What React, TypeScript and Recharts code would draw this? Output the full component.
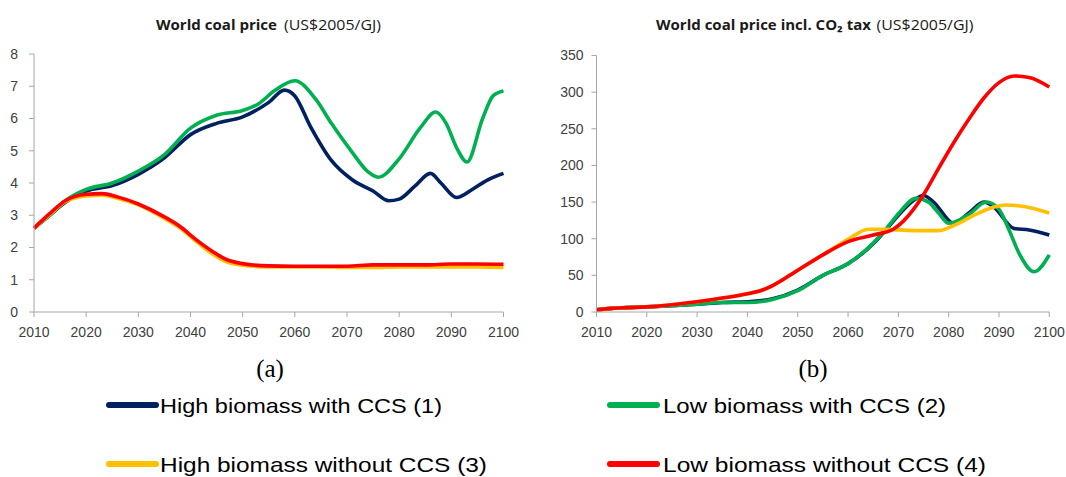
import React from 'react';
import { LineChart, Line, XAxis, YAxis } from 'recharts';

// ---------- shared ----------
const xTicks = [2010, 2020, 2030, 2040, 2050, 2060, 2070, 2080, 2090, 2100];
const leftYTicks = [0, 1, 2, 3, 4, 5, 6, 7, 8];
const rightYTicks = [0, 50, 100, 150, 200, 250, 300, 350];

const seriesNames = [
  'High biomass with CCS (1)',
  'Low biomass with CCS (2)',
  'High biomass without CCS (3)',
  'Low biomass without CCS (4)',
];
const seriesColors = ['#002060', '#00B050', '#FFC000', '#FF0000'];

// ---------- (a) World coal price ----------
const aYearsBlue = [2010, 2013, 2016, 2020, 2025, 2030, 2035, 2040, 2045, 2050, 2055, 2058, 2060, 2063, 2067, 2071, 2075, 2078, 2080, 2083, 2086, 2088, 2091, 2094, 2097, 2100];
const aBlue = [2.6, 3.0, 3.4, 3.75, 3.92, 4.27, 4.78, 5.5, 5.85, 6.05, 6.5, 6.88, 6.7, 5.75, 4.7, 4.1, 3.75, 3.45, 3.5, 3.9, 4.3, 4.0, 3.55, 3.8, 4.1, 4.3];

const aYearsGreen = [2010, 2013, 2016, 2020, 2025, 2030, 2035, 2040, 2045, 2050, 2053, 2056, 2060, 2064, 2067, 2071, 2074, 2076, 2080, 2084, 2087, 2089, 2091, 2093, 2096, 2098, 2100];
const aGreen = [2.6, 3.0, 3.45, 3.8, 4.0, 4.37, 4.88, 5.7, 6.1, 6.25, 6.45, 6.85, 7.17, 6.6, 5.85, 4.95, 4.35, 4.18, 4.75, 5.7, 6.2, 5.85, 5.1, 4.65, 6.0, 6.7, 6.85];

const aYearsLow = [2010, 2013, 2016, 2020, 2023, 2026, 2030, 2035, 2038, 2041, 2044, 2047, 2050, 2055, 2060, 2065, 2070, 2075, 2080, 2085, 2090, 2095, 2100];
const aYellow = [2.6, 3.02, 3.42, 3.6, 3.62, 3.53, 3.32, 2.9, 2.6, 2.2, 1.82, 1.55, 1.45, 1.4, 1.4, 1.4, 1.38, 1.38, 1.4, 1.4, 1.4, 1.4, 1.38];
const aRed = [2.6, 3.05, 3.45, 3.65, 3.67, 3.57, 3.35, 2.95, 2.65, 2.25, 1.9, 1.62, 1.5, 1.43, 1.42, 1.42, 1.42, 1.46, 1.46, 1.46, 1.49, 1.49, 1.48];

// ---------- (b) World coal price incl. CO2 tax ----------
const bYearsBlue = [2010, 2013, 2016, 2020, 2025, 2030, 2035, 2040, 2045, 2050, 2055, 2060, 2065, 2068, 2070, 2073, 2075, 2077, 2081, 2084, 2087, 2089, 2093, 2096, 2100];
const bBlue = [3, 5, 6, 7, 8.5, 10.5, 13, 14, 18, 30, 50, 66, 93, 116, 132, 152, 159, 150, 121, 135, 150, 143, 114, 112, 105];

const bYearsGreen = [2010, 2013, 2016, 2020, 2025, 2030, 2035, 2040, 2045, 2050, 2055, 2060, 2065, 2068, 2070, 2073.5, 2076, 2078, 2080, 2084, 2087.5, 2090, 2092, 2094, 2097, 2100];
const bGreen = [3, 5, 6, 7, 8.5, 10.5, 13, 13, 17, 29, 50, 66, 94, 117, 134, 155, 150, 135, 121, 133, 150, 140, 112, 80, 55, 78];

const bYearsYellow = [2010, 2013, 2016, 2020, 2025, 2030, 2035, 2040, 2043, 2045, 2050, 2055, 2060, 2064, 2067, 2070, 2074, 2078, 2081, 2085, 2088, 2091.5, 2095, 2100];
const bYellow = [3, 5, 6, 7, 10, 14, 19, 25, 30, 36, 57, 78, 99, 113, 113, 112, 111, 111, 118, 132, 141, 146, 144, 135];

const bYearsRed = [2010, 2013, 2016, 2020, 2025, 2030, 2035, 2040, 2043, 2045, 2050, 2055, 2060, 2065, 2069, 2071, 2073, 2075, 2078, 2081, 2084, 2087, 2090, 2093, 2096, 2100];
const bRed = [3, 5, 6, 7, 10, 14, 19, 25, 30, 36, 57, 78, 96, 105, 113, 124, 140, 160, 196, 231, 263, 292, 313, 322, 320, 307];

const toRows = (years: number[], vals: number[]) => years.map((y, i) => ({ year: y, v: vals[i] }));

const aSeries = [
  toRows(aYearsBlue, aBlue),
  toRows(aYearsGreen, aGreen),
  toRows(aYearsLow, aYellow),
  toRows(aYearsLow, aRed),
];
const bSeries = [
  toRows(bYearsBlue, bBlue),
  toRows(bYearsGreen, bGreen),
  toRows(bYearsYellow, bYellow),
  toRows(bYearsRed, bRed),
];

const axisColor = '#A6A6A6';
const tickStyle = { fill: '#404040', fontSize: 14, fontFamily: 'Liberation Sans, Arial, sans-serif' };

function Panel({ series, yDomain, yTicks, width, margin, yTickMargin }: any) {
  return (
    <LineChart width={width} height={345} margin={margin} style={{ overflow: 'visible' }}>
      <XAxis
        dataKey="year"
        type="number"
        domain={[2010, 2100]}
        ticks={xTicks}
        allowDuplicatedCategory={false}
        height={30}
        tickSize={5}
        tickMargin={10}
        tick={tickStyle}
        axisLine={{ stroke: axisColor }}
        tickLine={{ stroke: axisColor }}
        interval={0}
      />
      <YAxis
        type="number"
        domain={yDomain}
        ticks={yTicks}
        width={30}
        tickSize={5}
        tickMargin={yTickMargin}
        tick={tickStyle}
        axisLine={{ stroke: axisColor }}
        tickLine={{ stroke: axisColor }}
        interval={0}
      />
      {series.map((d: any[], i: number) => (
        <Line
          key={seriesNames[i]}
          name={seriesNames[i]}
          data={d}
          dataKey="v"
          type="monotone"
          stroke={seriesColors[i]}
          strokeWidth={3.6}
          dot={false}
          activeDot={false}
          isAnimationActive={false}
        />
      ))}
    </LineChart>
  );
}

const titleFont = 'Open Sans, Liberation Sans, sans-serif';
const legendFont = 'Liberation Sans, Arial, sans-serif';

const legendItems = [
  { sx: 109, tx: 160, tw: 282, y: 405 },
  { sx: 610, tx: 663, tw: 283, y: 405 },
  { sx: 109, tx: 160, tw: 327, y: 464 },
  { sx: 610, tx: 663, tw: 323, y: 464 },
];

export default function App() {
  return (
    <div style={{ position: 'absolute', left: 0, top: 0, width: 1066, height: 477, background: '#fff', overflow: 'hidden' }}>
      <div style={{ position: 'absolute', left: 0, top: 0 }}>
        <Panel
          series={aSeries}
          yDomain={[0, 8]}
          yTicks={leftYTicks}
          width={530}
          margin={{ top: 54, right: 26.5, left: 4, bottom: 3 }}
          yTickMargin={11}
        />
      </div>
      <div style={{ position: 'absolute', left: 533, top: 0 }}>
        <Panel
          series={bSeries}
          yDomain={[0, 350]}
          yTicks={rightYTicks}
          width={533}
          margin={{ top: 55.5, right: 16.7, left: 33.5, bottom: 3 }}
          yTickMargin={8}
        />
      </div>
      <svg width={1066} height={477} style={{ position: 'absolute', left: 0, top: 0, pointerEvents: 'none' }}>
        {/* titles */}
        <text x={156} y={30} fontFamily={titleFont} fontWeight="bold" fontSize={14.5} fill="#1a1a1a" textLength={121} lengthAdjust="spacingAndGlyphs">
          World coal price
        </text>
        <text x={284} y={30} fontFamily={titleFont} fontSize={14.5} fill="#1a1a1a" textLength={97} lengthAdjust="spacingAndGlyphs">
          (US$2005/GJ)
        </text>
        <text x={656} y={30} fontFamily={titleFont} fontWeight="bold" fontSize={14.5} fill="#1a1a1a" textLength={215} lengthAdjust="spacingAndGlyphs">
          World coal price incl. CO₂ tax
        </text>
        <text x={876.5} y={30} fontFamily={titleFont} fontSize={14.5} fill="#1a1a1a" textLength={97} lengthAdjust="spacingAndGlyphs">
          (US$2005/GJ)
        </text>
        {/* captions */}
        <text x={270} y={377} textAnchor="middle" fontFamily="Liberation Serif, serif" fontSize={25} fill="#000">(a)</text>
        <text x={813} y={377} textAnchor="middle" fontFamily="Liberation Serif, serif" fontSize={25} fill="#000">(b)</text>
        {/* legend */}
        {legendItems.map((it, i) => (
          <g key={i}>
            <line x1={it.sx} x2={it.sx + 47} y1={it.y} y2={it.y} stroke={seriesColors[i]} strokeWidth={6} strokeLinecap="round" />
            <text x={it.tx} y={it.y + 8} fontFamily={legendFont} fontSize={21} fill="#000" textLength={it.tw} lengthAdjust="spacingAndGlyphs">
              {seriesNames[i]}
            </text>
          </g>
        ))}
      </svg>
    </div>
  );
}
